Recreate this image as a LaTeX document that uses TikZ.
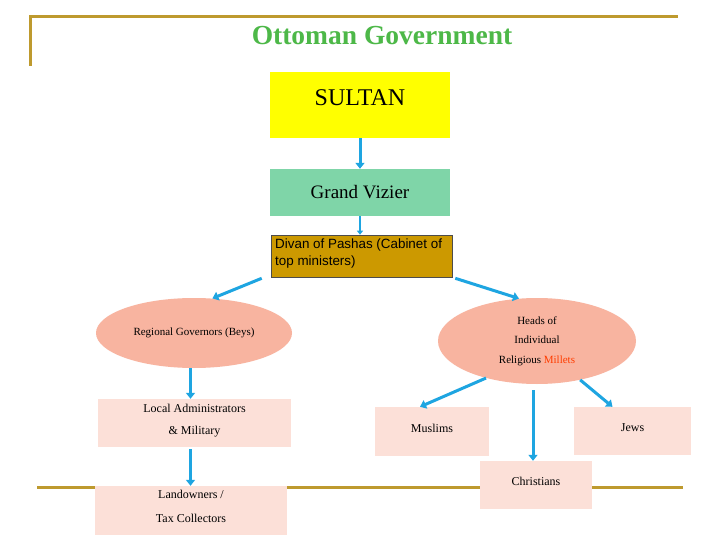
\documentclass[tikz,border=0pt]{standalone}
\usepackage{fontspec}
\setmainfont{Liberation Serif}
\newfontfamily\divanfont{Liberation Sans}
\usetikzlibrary{arrows.meta,shapes.geometric,calc}
\definecolor{goldline}{RGB}{190,154,46}
\definecolor{titlegreen}{RGB}{77,184,72}
\definecolor{sultanyellow}{RGB}{255,255,0}
\definecolor{viziergreen}{RGB}{127,213,168}
\definecolor{divangold}{RGB}{204,153,0}
\definecolor{salmon}{RGB}{248,180,160}
\definecolor{pinkbox}{RGB}{252,224,216}
\definecolor{arrowblue}{RGB}{30,165,225}
\definecolor{milletred}{RGB}{255,60,0}
\begin{document}
\begin{tikzpicture}[x=1pt,y=-1pt,
  goldrule/.style={draw=goldline,line width=3pt},
  conn/.style={draw=arrowblue,line width=3pt,-{Triangle[length=6pt,width=9pt]}},
  pinkrect/.style={fill=pinkbox,draw=none,inner sep=0pt},
  boxtext/.style={inner sep=0pt,align=center,font=\fontsize{12}{22}\selectfont},
  salmonell/.style={ellipse,fill=salmon,draw=none,inner sep=0pt,align=center,font=\fontsize{11}{19.5}\selectfont}
]
\useasboundingbox[fill=white] (0,0) rectangle (720,540);
% gold rules
\draw[goldrule] (30,66) -- (30,17) -- (678,17);
\draw[goldrule] (37,487) -- (683,487);
% title
\node[text=titlegreen,font=\fontsize{27.5}{30}\selectfont\bfseries] (title) at (382,36) {Ottoman Government};
% sultan
\node[fill=sultanyellow,minimum width=180pt,minimum height=66pt,inner sep=0pt] (sultan) at (360,105) {};
\node[font=\fontsize{24}{28}\selectfont,inner sep=0pt] (sultantext) at (360,98) {SULTAN};
% vizier
\node[fill=viziergreen,minimum width=180pt,minimum height=47pt,inner sep=0pt,font=\fontsize{19}{22}\selectfont] (vizier) at (360,192.5) {Grand Vizier};
% divan
\node[fill=divangold,draw=black!70,line width=0.6pt,minimum width=181pt,minimum height=42pt,inner sep=0pt] (divan) at (361.5,256) {};
\node[anchor=north west,inner sep=0pt,align=left,font=\divanfont\fontsize{13.4}{17}\selectfont] (divantext) at (275,239) {Divan of Pashas (Cabinet of\\top ministers)};
% ellipses
\node[salmonell,minimum width=196pt,minimum height=70pt] (regional) at (194,333) {Regional Governors (Beys)};
\node[salmonell,minimum width=198pt,minimum height=86pt] (heads) at (537,341) {Heads of\\Individual\\Religious \textcolor{milletred}{Millets}};
% boxes
\node[pinkrect,minimum width=193pt,minimum height=48pt] (local) at (194.5,423) {};
\node[boxtext] (localtext) at (194.5,421) {Local Administrators\\\& Military};
\node[pinkrect,minimum width=192pt,minimum height=49pt] (land) at (191,510.5) {};
\node[boxtext,font=\fontsize{12}{24}\selectfont] (landtext) at (191,506) {Landowners /\\Tax Collectors};
\node[pinkrect,minimum width=114pt,minimum height=49pt] (muslims) at (432,431.5) {};
\node[boxtext] (muslimstext) at (432,428) {Muslims};
\node[pinkrect,minimum width=112pt,minimum height=48pt] (christians) at (536,485) {};
\node[boxtext] (christianstext) at (536,481) {Christians};
\node[pinkrect,minimum width=117pt,minimum height=48pt] (jews) at (632.5,431) {};
\node[boxtext] (jewstext) at (632.5,428) {Jews};
% connectors
\draw[conn] (sultan.south) -- (vizier.north);
\draw[conn,line width=2pt,-{Triangle[length=4pt,width=6pt]}] (vizier.south) -- (vizier.south |- divan.north);
\draw[conn] ($(divan.south west)+(-9,1)$) -- (regional.62);
\draw[conn] ($(divan.south east)+(3,1)$) -- (heads.113);
\draw[conn] (regional.south -| local.north) ++(-4,0) coordinate (rs) -- (rs |- local.north);
\draw[conn] (local.south) ++(-4,2) coordinate (ls) -- (ls |- land.north);
\draw[conn] (heads.216) -- ($(muslims.north)+(-12,0)$);
\draw[conn] (heads.south) ++(-4,6) coordinate (hs) -- (hs |- christians.north);
\draw[conn] (heads.318) -- ($(jews.north)+(-20,0)$);
\end{tikzpicture}
\end{document}
